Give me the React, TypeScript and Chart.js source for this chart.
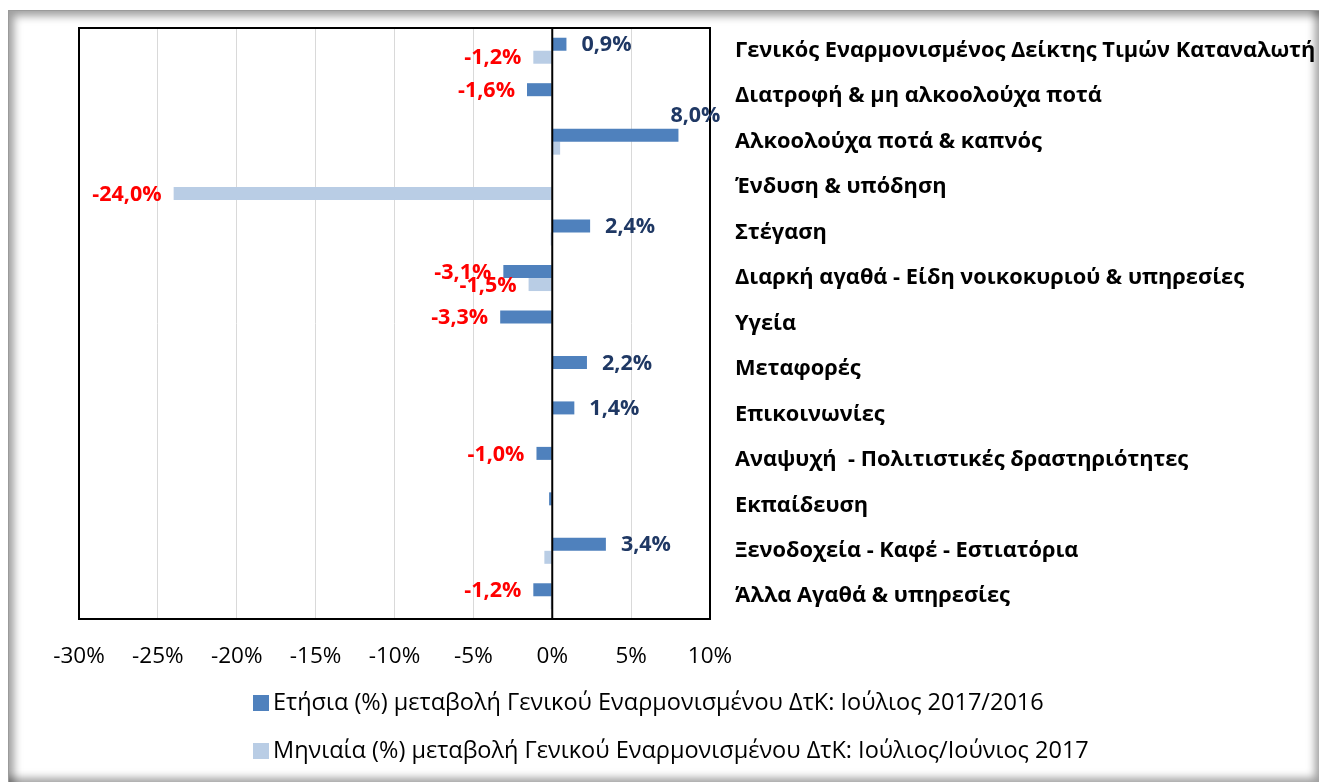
import React, { useEffect, useRef } from 'react';
import { Chart, registerables } from 'chart.js';

Chart.register(...registerables);

const categories = [
  'Γενικός Εναρμονισμένος Δείκτης Τιμών Καταναλωτή',
  'Διατροφή & μη αλκοολούχα ποτά',
  'Αλκοολούχα ποτά & καπνός',
  'Ένδυση & υπόδηση',
  'Στέγαση',
  'Διαρκή αγαθά - Είδη νοικοκυριού & υπηρεσίες',
  'Υγεία',
  'Μεταφορές',
  'Επικοινωνίες',
  'Αναψυχή  - Πολιτιστικές δραστηριότητες',
  'Εκπαίδευση',
  'Ξενοδοχεία - Καφέ - Εστιατόρια',
  'Άλλα Αγαθά & υπηρεσίες',
];

const annualValues = [0.9, -1.6, 8.0, 0.0, 2.4, -3.1, -3.3, 2.2, 1.4, -1.0, -0.2, 3.4, -1.2];
const monthlyValues = [-1.2, 0.0, 0.5, -24.0, -0.1, -1.5, 0.0, 0.0, 0.0, 0.0, 0.0, -0.5, -0.1];

const annualShowLabel = [true, true, true, false, true, true, true, true, true, true, false, true, true];
const monthlyShowLabel = [true, false, false, true, false, true, false, false, false, false, false, false, false];

const seriesNames = [
  'Ετήσια (%) μεταβολή Γενικού Εναρμονισμένου ΔτΚ: Ιούλιος 2017/2016',
  'Μηνιαία (%) μεταβολή Γενικού Εναρμονισμένου ΔτΚ: Ιούλιος/Ιούνιος 2017',
];

const xMin = -30;
const xMax = 10;
const xStep = 5;

const DARK = '#4F81BD';
const LIGHT = '#B9CDE5';
const NAVY = '#1F3864';
const RED = '#FF0000';
const FONT = "'Open Sans', 'Noto Sans', sans-serif";

const W = 1319;
const H = 782;

function fmt(v: number) {
  return v.toFixed(1).replace('.', ',') + '%';
}

const framePlugin = {
  id: 'framePlugin',
  afterDatasetsDraw(chart: any) {
    const { ctx, chartArea } = chart;
    const x0 = chart.scales.x.getPixelForValue(0);
    ctx.save();
    ctx.strokeStyle = '#000';
    ctx.lineWidth = 2;
    ctx.beginPath();
    ctx.moveTo(x0, chartArea.top);
    ctx.lineTo(x0, chartArea.bottom);
    ctx.stroke();
    ctx.strokeRect(chartArea.left, chartArea.top, chartArea.right - chartArea.left, chartArea.bottom - chartArea.top);
    ctx.restore();
  },
};

const labelPlugin = {
  id: 'labelPlugin',
  afterDraw(chart: any) {
    const { ctx, chartArea } = chart;
    const shows = [annualShowLabel, monthlyShowLabel];
    ctx.save();
    ctx.font = `bold 21.5px ${FONT}`;
    ctx.textBaseline = 'middle';
    chart.data.datasets.forEach((ds: any, di: number) => {
      const meta = chart.getDatasetMeta(di);
      meta.data.forEach((bar: any, i: number) => {
        if (!shows[di][i]) return;
        const v = ds.data[i];
        const text = fmt(v);
        const w = ctx.measureText(text).width;
        if (v >= 0) {
          ctx.fillStyle = NAVY;
          const x = bar.x + 15;
          if (x + w > chartArea.right) {
            ctx.textAlign = 'center';
            ctx.fillText(text, bar.x + 17, bar.y - 19);
          } else {
            ctx.textAlign = 'left';
            ctx.fillText(text, x, bar.y + 1);
          }
        } else {
          ctx.fillStyle = RED;
          ctx.textAlign = 'right';
          ctx.fillText(text, bar.x - 12, bar.y + 1);
        }
      });
    });
    ctx.restore();
  },
};

const legendPlugin = {
  id: 'legendPlugin',
  afterDraw(chart: any) {
    const { ctx } = chart;
    const left = 253;
    const rows = [703, 751];
    ctx.save();
    ctx.font = `23.5px ${FONT}`;
    ctx.textBaseline = 'middle';
    ctx.textAlign = 'left';
    chart.data.datasets.forEach((ds: any, i: number) => {
      const y = rows[i];
      ctx.fillStyle = ds.backgroundColor;
      ctx.fillRect(left, y - 8, 16, 16);
      ctx.fillStyle = '#000';
      ctx.fillText(ds.label, left + 20, y);
    });
    ctx.restore();
  },
};

export default function App() {
  const ref = useRef<HTMLCanvasElement | null>(null);

  useEffect(() => {
    if (!ref.current) return;
    const chart = new Chart(ref.current, {
      type: 'bar',
      data: {
        labels: categories,
        datasets: [
          { label: seriesNames[0], data: annualValues, backgroundColor: DARK, borderWidth: 0 },
          { label: seriesNames[1], data: monthlyValues, backgroundColor: LIGHT, borderWidth: 0 },
        ],
      },
      options: {
        indexAxis: 'y',
        responsive: false,
        animation: false,
        devicePixelRatio: 1,
        layout: { padding: { left: 79, top: 28, right: 0, bottom: 103 } },
        datasets: { bar: { categoryPercentage: 0.572, barPercentage: 1 } },
        plugins: {
          legend: { display: false },
          tooltip: { enabled: false },
        },
        scales: {
          x: {
            type: 'linear',
            min: xMin,
            max: xMax,
            ticks: {
              stepSize: xStep,
              padding: 24,
              color: '#000',
              font: { family: FONT, size: 22.5 },
              callback: (v: any) => `${v}%`,
            },
            grid: {
              drawTicks: false,
              color: (c: any) => (c.tick && c.tick.value === 0 ? 'rgba(0,0,0,0)' : '#D9D9D9'),
              lineWidth: 1,
            },
            border: { display: false },
            afterFit: (s: any) => {
              s.height = 60;
              s.paddingLeft = 0;
              s.paddingRight = 0;
            },
          },
          y: {
            position: 'right',
            ticks: {
              padding: 25,
              color: '#000',
              font: { family: FONT, size: 21.8, weight: 'bold' },
            },
            grid: { display: false, drawTicks: false },
            border: { display: false },
            afterFit: (s: any) => {
              s.width = W - 710;
              s.paddingTop = 0;
              s.paddingBottom = 0;
            },
          },
        },
      },
      plugins: [framePlugin, labelPlugin, legendPlugin],
    } as any);
    return () => chart.destroy();
  }, []);

  return (
    <div style={{ position: 'fixed', left: 0, top: 0, width: W, height: H, background: '#fff', overflow: 'hidden' }}>
      <div
        style={{
          position: 'absolute',
          left: 8,
          top: 10,
          width: W - 8 + 2,
          height: H - 10 + 2,
          background: '#fff',
          boxSizing: 'border-box',
          border: '1px solid #9a9a9a',
          boxShadow:
            'inset 9px 9px 9px -4px rgba(0,0,0,0.38), inset -9px -9px 9px -4px rgba(0,0,0,0.38)',
        }}
      />
      <canvas ref={ref} width={W} height={H} style={{ position: 'absolute', left: 0, top: 0 }} />
    </div>
  );
}
